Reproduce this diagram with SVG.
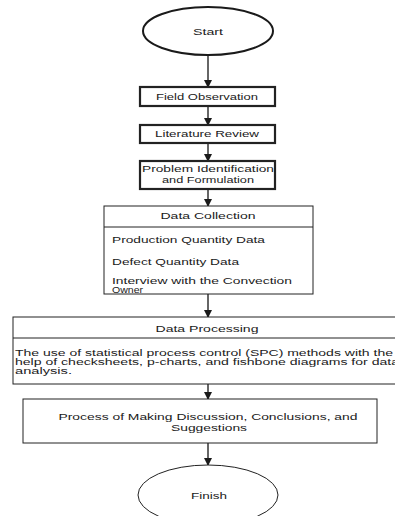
<svg xmlns="http://www.w3.org/2000/svg" width="395" height="516" viewBox="0 0 395 516">
<defs>
<marker id="ah" markerWidth="8" markerHeight="8" refX="7" refY="4" orient="auto" markerUnits="userSpaceOnUse">
<path d="M0,0 L8,4 L0,8 Z" fill="#1a1a1a"/>
</marker>
<style>
.t{font-family:"Liberation Sans",Arial,sans-serif;font-size:9px;fill:#1a1a1a}
.s{font-size:8.3px}
.c{text-anchor:middle}
.box{fill:#fff;stroke:#222;stroke-width:1}
.thick{fill:#fff;stroke:#222;stroke-width:2.2}
.conn{stroke:#333;stroke-width:1.5;fill:none;marker-end:url(#ah)}
</style>
</defs>
<rect width="395" height="516" fill="#fff"/>
<g id="connectors">
<line class="conn" x1="208" y1="55" x2="208" y2="87"/>
<line class="conn" x1="208" y1="106" x2="208" y2="125"/>
<line class="conn" x1="208" y1="143" x2="208" y2="161"/>
<line class="conn" x1="208" y1="189" x2="208" y2="206"/>
<line class="conn" x1="208" y1="294" x2="208" y2="317"/>
<line class="conn" x1="208" y1="384" x2="208" y2="399"/>
<line class="conn" x1="208" y1="443" x2="208" y2="465"/>
</g>
<g id="start">
<ellipse cx="208" cy="31" rx="65" ry="24" fill="#fff" stroke="#1a1a1a" stroke-width="2"/>
<text class="t c" x="208" y="35" textLength="30" lengthAdjust="spacingAndGlyphs">Start</text>
</g>
<g id="field-observation">
<rect class="thick" x="140" y="87" width="135" height="19"/>
<text class="t c" x="207" y="99.5" textLength="102" lengthAdjust="spacingAndGlyphs">Field Observation</text>
</g>
<g id="literature-review">
<rect class="thick" x="140" y="125" width="135" height="18"/>
<text class="t c" x="207" y="137" textLength="104" lengthAdjust="spacingAndGlyphs">Literature Review</text>
</g>
<g id="problem-identification">
<rect class="thick" x="140" y="161" width="135" height="28"/>
<text class="t c s" x="208" y="172" textLength="132" lengthAdjust="spacingAndGlyphs">Problem Identification</text>
<text class="t c s" x="208" y="183" textLength="92" lengthAdjust="spacingAndGlyphs">and Formulation</text>
</g>
<g id="data-collection">
<rect class="box" x="104" y="206" width="209" height="88"/>
<line x1="104" y1="227" x2="313" y2="227" stroke="#222" stroke-width="1"/>
<text class="t c" x="208" y="219" textLength="95" lengthAdjust="spacingAndGlyphs">Data Collection</text>
<text class="t" x="112" y="243" textLength="153" lengthAdjust="spacingAndGlyphs">Production Quantity Data</text>
<text class="t" x="112" y="265" textLength="127" lengthAdjust="spacingAndGlyphs">Defect Quantity Data</text>
<text class="t s" x="112" y="284" textLength="180" lengthAdjust="spacingAndGlyphs">Interview with the Convection</text>
<text class="t s" x="112" y="292.5" textLength="31" lengthAdjust="spacingAndGlyphs">Owner</text>
</g>
<g id="data-processing">
<rect class="box" x="13" y="317" width="400" height="67"/>
<line x1="13" y1="338" x2="413" y2="338" stroke="#222" stroke-width="1"/>
<text class="t c" x="207" y="331.5" textLength="103" lengthAdjust="spacingAndGlyphs">Data Processing</text>
<text class="t s" x="15" y="355.5" textLength="378" lengthAdjust="spacingAndGlyphs">The use of statistical process control (SPC) methods with the</text>
<text class="t s" x="15" y="364.5" textLength="384" lengthAdjust="spacingAndGlyphs">help of checksheets, p-charts, and fishbone diagrams for data</text>
<text class="t s" x="15" y="373.5" textLength="57" lengthAdjust="spacingAndGlyphs">analysis.</text>
</g>
<g id="discussion">
<rect class="box" x="23" y="399" width="354" height="44"/>
<text class="t c" x="208" y="419.5" textLength="299" lengthAdjust="spacingAndGlyphs">Process of Making Discussion, Conclusions, and</text>
<text class="t c" x="209" y="431" textLength="76" lengthAdjust="spacingAndGlyphs">Suggestions</text>
</g>
<g id="finish">
<ellipse cx="208" cy="495" rx="70" ry="30" fill="#fff" stroke="#222" stroke-width="1"/>
<text class="t c" x="209" y="499" textLength="36" lengthAdjust="spacingAndGlyphs">Finish</text>
</g>
</svg>
